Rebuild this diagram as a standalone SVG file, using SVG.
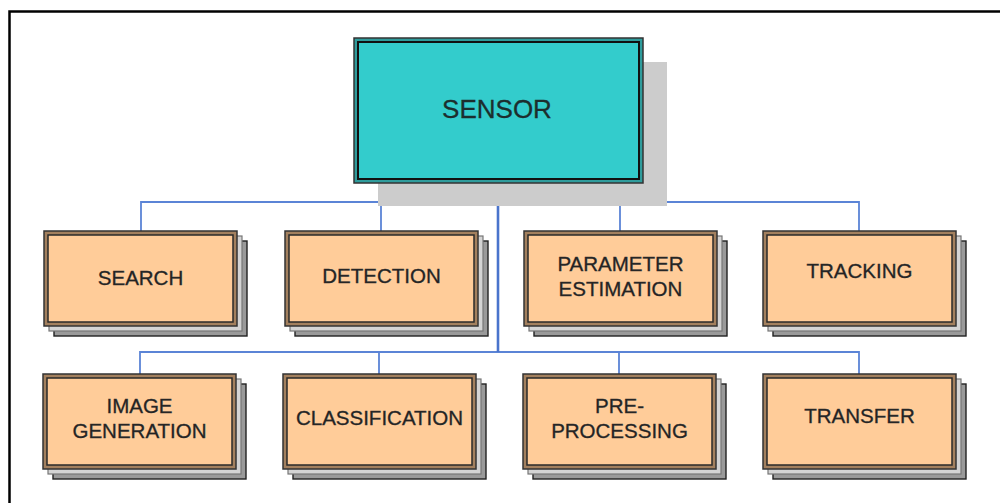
<svg xmlns="http://www.w3.org/2000/svg" width="1000" height="503" viewBox="0 0 1000 503">
  <style>
    .lbl { font-family: "Liberation Sans", Arial, sans-serif; font-size: 20.5px; fill: #222; stroke: #333; stroke-width: 0.35; text-anchor: middle; }
    .title { font-family: "Liberation Sans", Arial, sans-serif; font-size: 26px; fill: #1c2e2e; stroke: #1c2e2e; stroke-width: 0.3; text-anchor: middle; }
    .back2 { fill: #9a9a9a; stroke: #222; stroke-width: 1.4; }
    .back1 { fill: #d4d4d4; stroke: #777; stroke-width: 1.2; }
    .rim { fill: #a3805e; stroke: #333; stroke-width: 1.5; }
    .face { fill: #ffcc99; stroke: #2a2a2a; stroke-width: 1.5; }
    .bus { fill: none; stroke: #5b84d6; stroke-width: 1.8; }
    .trunk { fill: none; stroke: #4a74cc; stroke-width: 2.6; }
  </style>
  <defs>
    <!-- stacked card used for every task box -->
    <g id="card">
      <rect class="back2" x="10" y="10" width="193" height="95"/>
      <rect class="back1" x="5" y="5" width="193" height="95"/>
      <rect class="rim" x="0" y="0" width="193" height="95"/>
      <rect class="face" x="4" y="4" width="185" height="87"/>
    </g>
  </defs>

  <rect width="1000" height="503" fill="#fff"/>
  <!-- page frame -->
  <path d="M9.5,503 V11.5 H1000" fill="none" stroke="#000" stroke-width="2.5"/>

  <!-- connectors -->
  <g id="connectors">
    <path class="bus" d="M141,231 V202 H859 V231 M381,202 V231 M620,202 V231"/>
    <path class="bus" d="M140,374 V352 H859 V374 M379,352 V374 M619,352 V374"/>
    <path class="trunk" d="M498,183 V352"/>
  </g>

  <!-- root node -->
  <g id="sensor">
    <rect x="378" y="62" width="289" height="144" fill="#cccccc"/>
    <rect x="354" y="38" width="289" height="145" fill="#2f9c9c" stroke="#333" stroke-width="1.5"/>
    <rect x="358" y="42" width="281" height="137" fill="#33cccc" stroke="#111" stroke-width="2"/>
    <text class="title" x="497" y="118">SENSOR</text>
  </g>

  <!-- first row -->
  <g id="search" transform="translate(44,231)">
    <use href="#card"/>
    <text class="lbl" x="96.5" y="54">SEARCH</text>
  </g>
  <g id="detection" transform="translate(285,231)">
    <use href="#card"/>
    <text class="lbl" x="96.5" y="52">DETECTION</text>
  </g>
  <g id="parameter-estimation" transform="translate(524,231)">
    <use href="#card"/>
    <text class="lbl" x="96.5" y="40">PARAMETER</text>
    <text class="lbl" x="96.5" y="65">ESTIMATION</text>
  </g>
  <g id="tracking" transform="translate(763,231)">
    <use href="#card"/>
    <text class="lbl" x="96.5" y="47">TRACKING</text>
  </g>

  <!-- second row -->
  <g id="image-generation" transform="translate(43,374)">
    <use href="#card"/>
    <text class="lbl" x="96.5" y="39">IMAGE</text>
    <text class="lbl" x="96.5" y="64">GENERATION</text>
  </g>
  <g id="classification" transform="translate(283,374)">
    <use href="#card"/>
    <text class="lbl" x="96.5" y="51">CLASSIFICATION</text>
  </g>
  <g id="pre-processing" transform="translate(523,374)">
    <use href="#card"/>
    <text class="lbl" x="96.5" y="39">PRE-</text>
    <text class="lbl" x="96.5" y="64">PROCESSING</text>
  </g>
  <g id="transfer" transform="translate(763,374)">
    <use href="#card"/>
    <text class="lbl" x="96.5" y="49">TRANSFER</text>
  </g>
</svg>
